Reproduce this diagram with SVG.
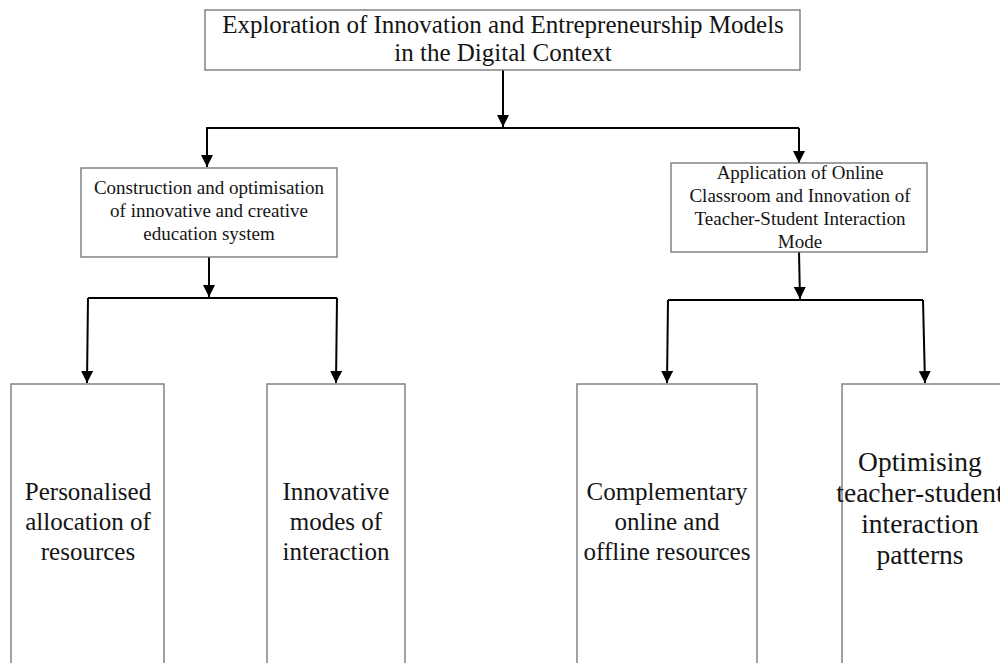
<svg xmlns="http://www.w3.org/2000/svg" width="1000" height="663" viewBox="0 0 1000 663">
  <style>
    .box { fill: #ffffff; stroke: #7a7a7a; stroke-width: 1.4; }
    .lbl { font-family: "Liberation Serif", "Times New Roman", serif; fill: #141414; text-anchor: middle; }
    .t1 { font-size: 25px; }
    .t2 { font-size: 19px; }
    .t3 { font-size: 25px; }
    .t4 { font-size: 27.5px; }
    .wire { fill: none; stroke: #000000; stroke-width: 2; }
  </style>
  <defs>
    <marker id="arrow" viewBox="0 0 10 10" refX="10" refY="5" markerWidth="6" markerHeight="6" markerUnits="strokeWidth" orient="auto">
      <path d="M0,0 L10,5 L0,10 Z" fill="#000000"/>
    </marker>
  </defs>
  <rect width="1000" height="663" fill="#ffffff"/>

  <!-- connectors -->
  <g id="connectors">
    <path class="wire" d="M503,70 L503,127" marker-end="url(#arrow)"/>
    <path class="wire" d="M206,128 L799,128"/>
    <path class="wire" d="M207,128 L207,167" marker-end="url(#arrow)"/>
    <path class="wire" d="M799,128 L799,163" marker-end="url(#arrow)"/>

    <path class="wire" d="M209,257 L209,297" marker-end="url(#arrow)"/>
    <path class="wire" d="M88,298 L337,298"/>
    <path class="wire" d="M88,298 L87,383" marker-end="url(#arrow)"/>
    <path class="wire" d="M337,298 L336,383" marker-end="url(#arrow)"/>

    <path class="wire" d="M799,252 L800,299" marker-end="url(#arrow)"/>
    <path class="wire" d="M668,300 L923,300"/>
    <path class="wire" d="M668,300 L667,383" marker-end="url(#arrow)"/>
    <path class="wire" d="M923,300 L925,383" marker-end="url(#arrow)"/>
  </g>

  <!-- root -->
  <g id="root">
    <rect class="box" x="205" y="10" width="595" height="60"/>
    <text class="lbl t1" x="503" y="33">Exploration of Innovation and Entrepreneurship Models</text>
    <text class="lbl t1" x="503" y="61">in the Digital Context</text>
  </g>

  <!-- second level -->
  <g id="education-system">
    <rect class="box" x="81" y="168" width="256" height="89"/>
    <text class="lbl t2" x="209" y="194">Construction and optimisation</text>
    <text class="lbl t2" x="209" y="217">of innovative and creative</text>
    <text class="lbl t2" x="209" y="240">education system</text>
  </g>
  <g id="online-classroom">
    <rect class="box" x="671" y="163" width="256" height="89"/>
    <text class="lbl t2" x="800" y="179">Application of Online</text>
    <text class="lbl t2" x="800" y="202">Classroom and Innovation of</text>
    <text class="lbl t2" x="800" y="225">Teacher-Student Interaction</text>
    <text class="lbl t2" x="800" y="248">Mode</text>
  </g>

  <!-- leaves -->
  <g id="personalised-allocation">
    <rect class="box" x="11" y="384" width="153" height="285"/>
    <text class="lbl t3" x="88" y="500">Personalised</text>
    <text class="lbl t3" x="88" y="530">allocation of</text>
    <text class="lbl t3" x="88" y="560">resources</text>
  </g>
  <g id="innovative-modes">
    <rect class="box" x="267" y="384" width="138" height="285"/>
    <text class="lbl t3" x="336" y="500">Innovative</text>
    <text class="lbl t3" x="336" y="530">modes of</text>
    <text class="lbl t3" x="336" y="560">interaction</text>
  </g>
  <g id="complementary-resources">
    <rect class="box" x="577" y="384" width="180" height="285"/>
    <text class="lbl t3" x="667" y="500">Complementary</text>
    <text class="lbl t3" x="667" y="530">online and</text>
    <text class="lbl t3" x="667" y="560">offline resources</text>
  </g>
  <g id="interaction-patterns">
    <rect class="box" x="842" y="384" width="162" height="285"/>
    <text class="lbl t4" x="920" y="471">Optimising</text>
    <text class="lbl t4" x="920" y="502">teacher-student</text>
    <text class="lbl t4" x="920" y="533">interaction</text>
    <text class="lbl t4" x="920" y="564">patterns</text>
  </g>
</svg>
